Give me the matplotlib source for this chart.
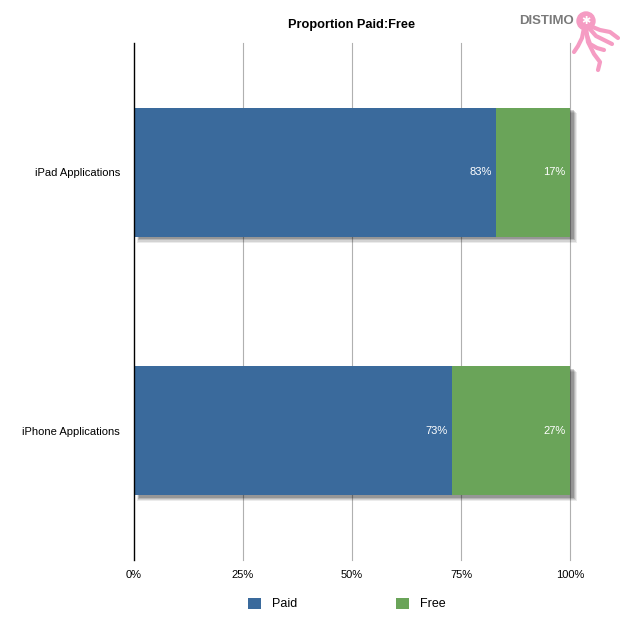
import matplotlib.pyplot as plt
from matplotlib.patches import Rectangle, Circle
from matplotlib.lines import Line2D

# data
categories = ['iPhone Applications', 'iPad Applications']
paid = [73, 83]
free = [27, 17]
x_ticks = [0, 25, 50, 75, 100]
x_tick_labels = ['0%', '25%', '50%', '75%', '100%']

blue = '#3a6a9c'
green = '#6aa459'
pink = '#f59cc3'

plt.rcParams['font.family'] = ['Liberation Sans', 'DejaVu Sans']

fig = plt.figure(figsize=(6.2, 6.2), dpi=100)
ax = fig.add_axes([134 / 620, 1 - 560 / 620, 436 / 620, 517 / 620])

ypos = list(range(len(categories)))
bar_h = 0.5

# soft drop shadow behind each bar
for y, p, f in zip(ypos, paid, free):
    total = p + f
    for i, a in enumerate([0.08, 0.10, 0.13, 0.18]):
        grow = 1.6 - i * 0.3
        ax.add_patch(Rectangle((0.8 + i * 0.1, y - bar_h / 2 - 0.022 + i * 0.004),
                               total + grow - 0.8, bar_h,
                               color='black', alpha=a, lw=0, zorder=1, clip_on=False))

ax.barh(ypos, paid, height=bar_h, color=blue, zorder=3, label='Paid')
ax.barh(ypos, free, left=paid, height=bar_h, color=green, zorder=3, label='Free')

for y, p, f in zip(ypos, paid, free):
    ax.text(p - 1, y, f'{p}%', ha='right', va='center', color='white', fontsize=8, zorder=4)
    ax.text(p + f - 1, y, f'{f}%', ha='right', va='center', color='white', fontsize=8, zorder=4)

ax.set_xlim(0, 100)
ax.set_ylim(-0.5, 1.5)
ax.set_xticks(x_ticks)
ax.set_xticklabels(x_tick_labels, fontsize=8)
ax.set_yticks(ypos)
ax.set_yticklabels(categories, fontsize=8)
ax.tick_params(length=0)
ax.tick_params(axis='y', pad=10)
ax.tick_params(axis='x', pad=7)
for xt in x_ticks[1:]:
    ax.axvline(xt, color='#b0b0b0', lw=0.8, zorder=0, clip_on=False)
for s in ['top', 'right', 'bottom']:
    ax.spines[s].set_visible(False)
ax.spines['left'].set_color('black')
ax.spines['left'].set_linewidth(1.0)
ax.spines['left'].set_zorder(5)

fig.text(352 / 620, 1 - 25 / 620, 'Proportion Paid:Free', ha='center', va='center',
         fontsize=9.2, fontweight='bold')

fig.legend(loc='center', bbox_to_anchor=(347 / 620, 1 - 604 / 620), ncol=2,
           frameon=False, fontsize=9, handlelength=1.0, handleheight=1.0,
           columnspacing=7.9, handletextpad=0.9)

# logo: text plus a simple pink octopus
fig.text(547 / 620, 1 - 21 / 620, 'DISTIMO', ha='center', va='center',
         fontsize=9.5, fontweight='bold', color='#7a7a7a')


def px(xs, ys):
    return [v / 620 for v in xs], [1 - v / 620 for v in ys]


tentacles = [
    ([584, 582, 578, 574], [28, 38, 46, 52]),
    ([586, 588, 594, 600, 598], [28, 42, 54, 62, 70]),
    ([589, 596, 604, 612], [28, 36, 40, 44]),
    ([590, 600, 610, 618], [26, 30, 32, 38]),
    ([585, 590, 597, 604], [30, 44, 48, 50]),
]
for tx, ty in tentacles:
    xs, ys = px(tx, ty)
    fig.add_artist(Line2D(xs, ys, color=pink, lw=3, solid_capstyle='round'))
fig.add_artist(Circle((586 / 620, 1 - 21 / 620), 9 / 620, color=pink))
fig.text(586 / 620, 1 - 21 / 620, '\u2731', ha='center', va='center',
         fontsize=8, color='white', family=['DejaVu Sans'])

fig.savefig('out.png', dpi=100)
